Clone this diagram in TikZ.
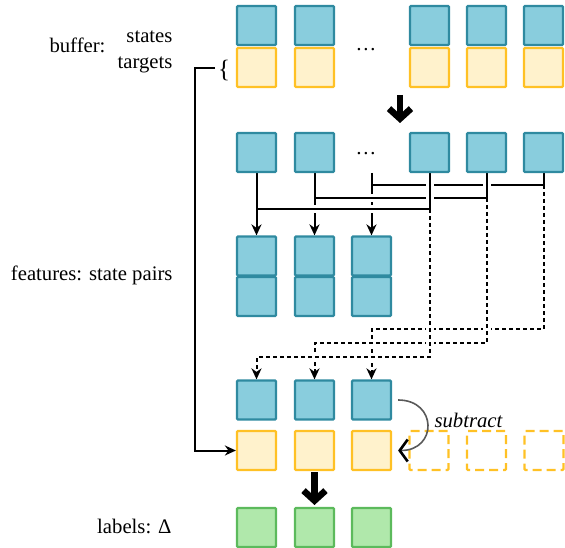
\documentclass[tikz,border=0pt]{standalone}
\usepackage{fontspec}
\setmainfont{Liberation Serif}
\newfontfamily\tmsfont{Liberation Serif}
\usetikzlibrary{arrows.meta,calc}
\definecolor{bluefill}{RGB}{137,205,221}
\definecolor{blueline}{RGB}{47,138,160}
\definecolor{yelfill}{RGB}{255,242,204}
\definecolor{yelline}{RGB}{255,193,37}
\definecolor{grnfill}{RGB}{176,232,171}
\definecolor{grnline}{RGB}{92,186,92}
\pgfdeclarelayer{wires}
\pgfsetlayers{wires,main}
\begin{document}
\begin{tikzpicture}[x=1pt,y=-1pt,
  font=\tmsfont\fontsize{20.7}{24}\selectfont,
  cell/.style={minimum width=39pt,minimum height=39pt,inner sep=0pt,line width=2.2pt,rounded corners=1pt},
  st/.style={cell,draw=blueline,fill=bluefill},
  tg/.style={cell,draw=yelline,fill=yelfill},
  gh/.style={cell,draw=yelline,dash pattern=on 9pt off 5pt},
  lb/.style={cell,draw=grnline,fill=grnfill},
  wire/.style={line width=2pt},
  arr/.style={-{Stealth[length=11pt,width=10pt,inset=3.5pt]}},
  halo/.style={white,line width=8pt},
  dsh/.style={dash pattern=on 4pt off 3pt},
  bigarrow/.style={line width=6.5pt,-{Straight Barb[length=10pt,width=22pt]}},
  lab/.style={anchor=base east},
]
\useasboundingbox (0,0) rectangle (565,548);

% buffer rows and the rows of states
\foreach \n/\x in {1/256.5,2/314.5,4/429.5,5/486.5,6/543.5} {
  \node[st] (bs\n) at (\x,25.5) {};
  \node[tg] (bt\n) at (\x,67.5) {};
  \node[st] (r\n) at (\x,152.5) {};
}
\node[anchor=base] (dotsA) at (366,51) {…};
\node[anchor=base] (dotsB) at (366,155) {…};

% features, differences, labels
\foreach \n/\x in {1/256.5,2/314.5,3/371.5} {
  \node[st] (f\n) at (\x,256) {};
  \node[st] (g\n) at (\x,296.5) {};
  \node[st] (l\n) at (\x,400) {};
  \node[tg] (y\n) at (\x,450.5) {};
  \node[lb] (z\n) at (\x,527.5) {};
}
\foreach \n/\x in {4/429,5/486.5,6/544} {
  \node[gh] (y\n) at (\x,450.5) {};
}

% texts
\node[lab] (tS) at (176,43) {states};
\node[lab] (tT) at (176,69) {targets};
\node[anchor=base west] (tB) at (46,53) {buffer:};
\node[lab] (tF) at (176,280) {features: state pairs};
\node[lab] (tL) at (175,533) {labels: Δ};
\node[font=\tmsfont\fontsize{25}{25}\selectfont] (brace) at (224,71) {\{};
\node[anchor=base west,font=\tmsfont\fontsize{20.7}{24}\selectfont\itshape] (sub) at (431,427) {subtract};

% big step arrows
\coordinate (ua) at (400,95);
\coordinate (ub) at (400,123);
\draw[bigarrow] (ua) -- (ub);
\coordinate (va) at (314.5,472);
\coordinate (vb) at (314.5,505);
\draw[bigarrow] (va) -- (vb);

% subtract arrow
\draw[line width=1.6pt,draw=black!65,-{Straight Barb[length=8pt,width=22pt,line width=2.6pt,color=black]}]
  ([xshift=6pt]l3.east) to[out=0,in=0,looseness=2] ([xshift=6pt]y3.east);

\begin{pgfonlayer}{wires}
\coordinate (e3) at (371.5,173);
\coordinate (h1) at (0,209);
\coordinate (h2) at (0,198);
\coordinate (h3) at (0,185);
\coordinate (d1) at (0,357);
\coordinate (d2) at (0,343);
\coordinate (d3) at (0,329);
% pair 3
\draw[halo] (e3) -- (f3.north) (r6.south) |- (e3 |- h3);
\draw[halo] (r6.south |- h3) |- (l3.north |- d3) -- (l3.north);
\draw[wire,arr] (e3) -- (f3.north);
\draw[wire] (r6.south) |- (e3 |- h3);
\draw[wire,dsh,arr] (r6.south |- h3) |- (l3.north |- d3) -- (l3.north);
% pair 2
\draw[halo] (r2.south) -- (f2.north) (r5.south) |- (r2.south |- h2);
\draw[halo] (r5.south |- h2) |- (l2.north |- d2) -- (l2.north);
\draw[wire,arr] (r2.south) -- (f2.north);
\draw[wire] (r5.south) |- (r2.south |- h2);
\draw[wire,dsh,arr] (r5.south |- h2) |- (l2.north |- d2) -- (l2.north);
% pair 1
\draw[halo] (r1.south) -- (f1.north) (r4.south) |- (r1.south |- h1);
\draw[halo] (r4.south |- h1) |- (l1.north |- d1) -- (l1.north);
\draw[wire,arr] (r1.south) -- (f1.north);
\draw[wire] (r4.south) |- (r1.south |- h1);
\draw[wire,dsh,arr] (r4.south |- h1) |- (l1.north |- d1) -- (l1.north);
% targets to the first difference
\coordinate (bk) at (215,68);
\draw[wire,arr] (bk) -- ++(-20,0) |- (y1.west);
\end{pgfonlayer}
\end{tikzpicture}
\end{document}
